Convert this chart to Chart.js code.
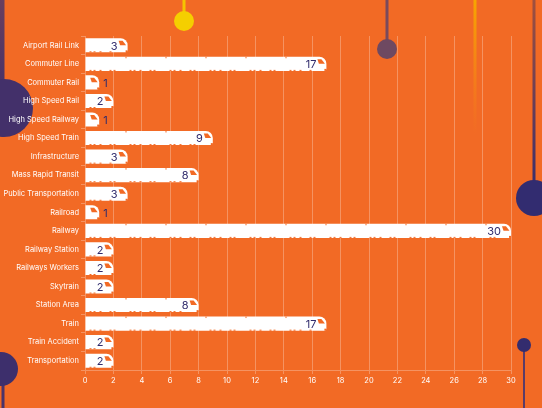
<!DOCTYPE html>
<html>
<head>
<meta charset="utf-8">
<script src="https://cdn.jsdelivr.net/npm/chart.js@4.4.1/dist/chart.umd.min.js"></script>
<style>
  html, body { margin: 0; padding: 0; background: #F26A25; }
  #wrap { width: 542px; height: 408px; position: relative; }
</style>
</head>
<body>
<div id="wrap"><canvas id="myChart"></canvas></div>
<script>
(() => {
  'use strict'

  const categories = [
    'Airport Rail Link', 'Commuter Line', 'Commuter Rail', 'High Speed Rail',
    'High Speed Railway', 'High Speed Train', 'Infrastructure', 'Mass Rapid Transit',
    'Public Transportation', 'Railroad', 'Railway', 'Railway Station',
    'Railways Workers', 'Skytrain', 'Station Area', 'Train', 'Train Accident',
    'Transportation'
  ]
  const counts = [3, 17, 1, 2, 1, 9, 3, 8, 3, 1, 30, 2, 2, 2, 8, 17, 2, 2]
  const xTicks = [0, 2, 4, 6, 8, 10, 12, 14, 16, 18, 20, 22, 24, 26, 28, 30]

  const ORANGE = '#F26A25'
  const NAVY = '#302B6C'
  const GRID = 'rgba(255,255,255,0.28)'

  // background bubbles and sticks
  const decor = {
    id: 'decor',
    beforeDraw (chart) {
      const c = chart.ctx
      c.save()
      c.fillStyle = ORANGE
      c.fillRect(0, 0, chart.width, chart.height)

      const stick = (x, y0, y1, w, col) => {
        c.fillStyle = col
        c.fillRect(x - w / 2, y0, w, y1 - y0)
      }
      const dot = (x, y, r, col) => {
        c.beginPath()
        c.arc(x, y, r, 0, Math.PI * 2)
        c.fillStyle = col
        c.fill()
      }

      // left big one
      let g = c.createLinearGradient(0, 0, 0, 100)
      g.addColorStop(0, '#6A3F5E')
      g.addColorStop(1, '#43306A')
      stick(2, 0, 100, 5, g)
      dot(4, 108, 29, '#43306A')

      // yellow
      stick(184, 0, 14, 3, '#F5C400')
      dot(184, 21, 10, '#F5CF00')

      // purple top
      stick(387, 0, 45, 3, '#7A4A5C')
      dot(387, 49, 10, '#6E4961')

      // fading orange line
      g = c.createLinearGradient(0, 0, 0, 135)
      g.addColorStop(0, '#F7A600')
      g.addColorStop(1, 'rgba(247,140,20,0)')
      stick(475, 0, 135, 3, g)

      // right navy
      g = c.createLinearGradient(0, 0, 0, 185)
      g.addColorStop(0, '#A0503E')
      g.addColorStop(1, '#3A2F6C')
      stick(534, 0, 185, 3, g)
      dot(534, 198, 18, '#322C70')

      // bottom left
      stick(3, 370, 408, 3, '#4A336A')
      dot(1, 369, 17, '#3D2F6C')

      // bottom right
      stick(524, 345, 408, 2, '#5A3C68')
      dot(524, 345, 7, '#332C6E')
      c.restore()
    }
  }

  // windows, wheels and the count on every train
  const trains = {
    id: 'trains',
    afterDatasetsDraw (chart) {
      const c = chart.ctx
      const meta = chart.getDatasetMeta(0)
      c.save()
      meta.data.forEach((bar, i) => {
        const { x, y, base, height } = bar.getProps(['x', 'y', 'base', 'height'], true)
        const top = y - height / 2
        const bot = y + height / 2
        c.fillStyle = ORANGE

        // windscreen
        c.beginPath()
        c.moveTo(x - 9, top + 2.5)
        c.lineTo(x - 5, top + 2.5)
        c.lineTo(x - 1.5, top + 7)
        c.lineTo(x - 7.5, top + 7)
        c.closePath()
        c.fill()
        c.fillRect(x - 2, bot - 2, 2, 2)

        // carriage joints and wheels
        for (let p = base + 40; p < x - 14; p += 40) {
          c.fillRect(p, top, 1, 1.5)
        }
        for (let p = base; p < x - 16; p += 40) {
          [4, 8, 14, 24, 28].forEach(o => {
            if (p + o < x - 16) c.fillRect(p + o, bot - 1, 2, 1)
          })
        }

        // value
        c.fillStyle = NAVY
        c.font = '11px Inter, "DejaVu Sans", sans-serif'
        c.textBaseline = 'middle'
        const v = String(counts[i])
        if (counts[i] <= 1) {
          c.textAlign = 'left'
          c.fillText(v, x + 4, y + 1)
        } else {
          c.textAlign = 'right'
          c.fillText(v, x - 10, y + 1)
        }
      })
      c.restore()
    }
  }

  const ctx = document.getElementById('myChart')
  // eslint-disable-next-line no-unused-vars
  const myChart = new Chart(ctx, {
    type: 'bar',
    data: {
      labels: categories,
      datasets: [{
        data: counts,
        backgroundColor: '#FFFFFF',
        borderWidth: 0,
        borderRadius: { topLeft: 0, bottomLeft: 0, topRight: 7, bottomRight: 2 },
        borderSkipped: false,
        barPercentage: 0.76,
        categoryPercentage: 1
      }]
    },
    plugins: [decor, trains],
    options: {
      indexAxis: 'y',
      responsive: true,
      maintainAspectRatio: false,
      animation: false,
      layout: { padding: { top: 36, right: 31, left: 0, bottom: 0 } },
      plugins: {
        legend: { display: false },
        tooltip: { enabled: false }
      },
      scales: {
        x: {
          min: 0,
          max: 30,
          afterFit: s => { s.height = 38 },
          afterBuildTicks: s => { s.ticks = xTicks.map(v => ({ value: v })) },
          grid: { color: GRID, tickLength: 4, lineWidth: 1 },
          border: { color: GRID },
          ticks: {
            color: '#FFFFFF',
            padding: 2,
            maxRotation: 0,
            font: { family: 'Inter, "DejaVu Sans", sans-serif', size: 7.5 }
          }
        },
        y: {
          afterFit: s => { s.width = 85 },
          grid: { display: true, drawOnChartArea: false, color: GRID, tickLength: 4 },
          border: { display: false },
          ticks: {
            color: '#FFFFFF',
            padding: 2,
            font: { family: 'Inter, "DejaVu Sans", sans-serif', size: 7.5 }
          }
        }
      }
    }
  })
})()
</script>
</body>
</html>
